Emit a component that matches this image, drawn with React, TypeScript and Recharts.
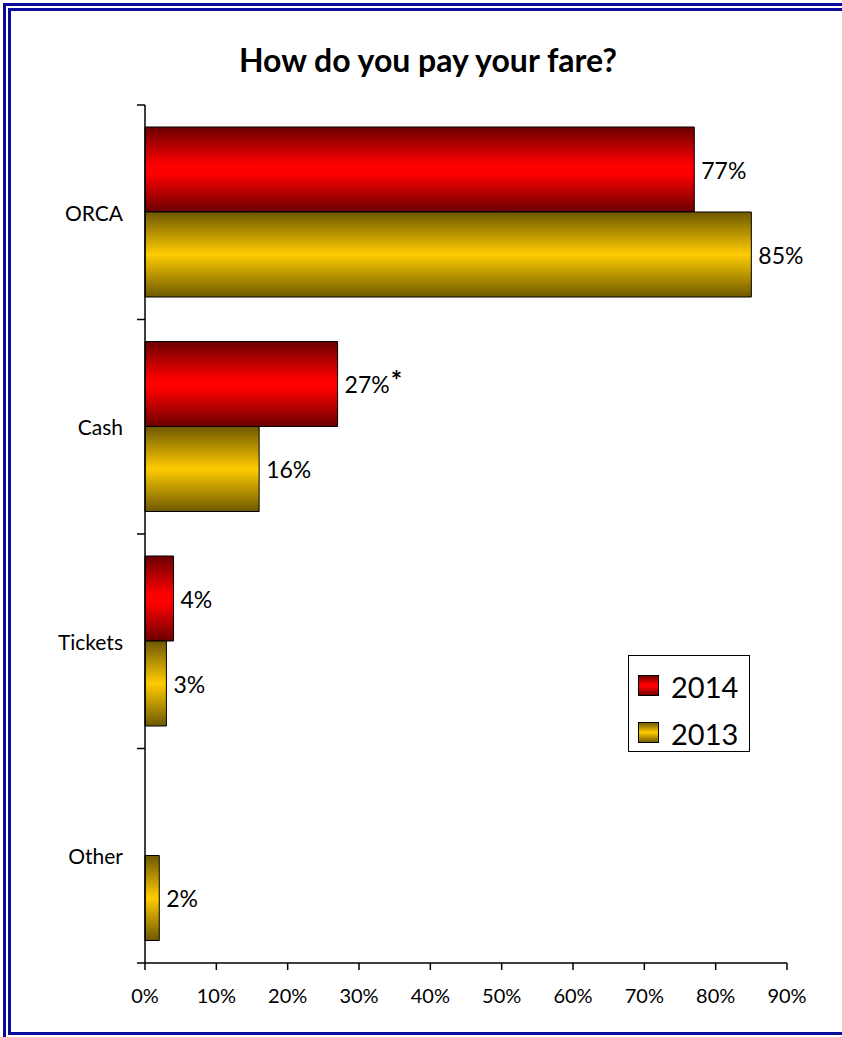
import React from "react";
import { BarChart, Bar, XAxis, YAxis, LabelList, Legend } from "recharts";

const categories = ["ORCA", "Cash", "Tickets", "Other"];
const values2014: (number | null)[] = [0.77, 0.27, 0.04, null];
const values2013: (number | null)[] = [0.85, 0.16, 0.03, 0.02];
const notes2014 = ["", "*", "", ""];
const xTicks = [0, 0.1, 0.2, 0.3, 0.4, 0.5, 0.6, 0.7, 0.8, 0.9];
const seriesNames = ["2014", "2013"];

const data = categories.map((c, i) => ({
  category: c,
  y2014: values2014[i],
  y2013: values2013[i],
  note: notes2014[i],
}));

const FONT = "Lato, 'Open Sans', sans-serif";
const pct = (v: number) => `${Math.round(v * 100)}%`;
const CAT_MARGIN = 22;
const CAT_TICK = 8;

const makeLabel = (notes: string[] | null) => (props: any) => {
  const { x, y, width, height, value, index } = props;
  if (value == null) return null;
  const note = notes ? notes[index] : "";
  return (
    <text
      x={x + width + 7}
      y={y + height / 2}
      dominantBaseline="central"
      fontFamily={FONT}
      fontSize={23}
      fill="#000"
    >
      {pct(value)}
      {note ? (
        <tspan dx={1} dy={-5} fontWeight="bold" fontSize={27}>
          {note}
        </tspan>
      ) : null}
    </text>
  );
};

const CategoryTick = (props: any) => {
  const { x, y, payload, index, visibleTicksCount } = props;
  const half = payload.offset || 0;
  const axisX = x + CAT_MARGIN;
  const isLast = index === visibleTicksCount - 1;
  return (
    <g>
      <line x1={axisX - CAT_TICK} x2={axisX} y1={y - half} y2={y - half} stroke="#000" strokeWidth={1.5} />
      {isLast ? (
        <line x1={axisX - CAT_TICK} x2={axisX} y1={y + half} y2={y + half} stroke="#000" strokeWidth={1.5} />
      ) : null}
      <text x={x} y={y} textAnchor="end" dominantBaseline="central" fontFamily={FONT} fontSize={21} fill="#000">
        {payload.value}
      </text>
    </g>
  );
};

const LegendBox = () => (
  <div
    style={{
      width: 122,
      height: 97,
      border: "1px solid #000",
      background: "#fff",
      boxSizing: "border-box",
      fontFamily: FONT,
      fontSize: 29,
      color: "#000",
      paddingTop: 10,
      paddingLeft: 9,
    }}
  >
    {seriesNames.map((n, i) => (
      <div key={n} style={{ display: "flex", alignItems: "center", height: 40, marginBottom: i === 0 ? 7 : 0 }}>
        <svg width={22} height={22} style={{ marginRight: 11 }}>
          <rect x={0.5} y={0.5} width={20} height={20} fill={i === 0 ? "url(#gRed)" : "url(#gGold)"} stroke="#000" strokeWidth={1} />
        </svg>
        <span>{n}</span>
      </div>
    ))}
  </div>
);

export default function App() {
  return (
    <div
      style={{
        position: "absolute",
        left: 0,
        top: 0,
        width: 842,
        height: 1037,
        overflow: "hidden",
        background: "#fff",
      }}
    >
      <div
        style={{
          position: "absolute",
          left: 3,
          top: 3,
          width: 900,
          height: 1037,
          border: "8px double #0b0b9c",
          boxSizing: "border-box",
        }}
      />
      <div
        style={{
          position: "absolute",
          left: 0,
          top: 40,
          width: 856,
          textAlign: "center",
          fontFamily: FONT,
          fontWeight: "bold",
          fontSize: 32,
          color: "#000",
        }}
      >
        How do you pay your fare?
      </div>
      <div style={{ position: "absolute", left: 0, top: 0 }}>
        <BarChart
          width={842}
          height={1037}
          data={data}
          layout="vertical"
          margin={{ top: 105, right: 55, bottom: 14, left: 20 }}
          barGap={0}
          barCategoryGap="10.3%"
        >
          <defs>
            <linearGradient id="gRed" x1="0" y1="0" x2="0" y2="1">
              <stop offset="0%" stopColor="#6a0000" />
              <stop offset="45%" stopColor="#ff0000" />
              <stop offset="55%" stopColor="#ff0000" />
              <stop offset="100%" stopColor="#6a0000" />
            </linearGradient>
            <linearGradient id="gGold" x1="0" y1="0" x2="0" y2="1">
              <stop offset="0%" stopColor="#6e5800" />
              <stop offset="50%" stopColor="#ffcc00" />
              <stop offset="100%" stopColor="#6e5800" />
            </linearGradient>
          </defs>
          <XAxis
            type="number"
            domain={[0, 0.9]}
            ticks={xTicks}
            tickFormatter={pct}
            interval={0}
            height={60}
            axisLine={{ stroke: "#000", strokeWidth: 1.5 }}
            tickLine={{ stroke: "#000", strokeWidth: 1.5 }}
            tickSize={7}
            tickMargin={19}
            tick={{ fontFamily: FONT, fontSize: 20, fill: "#000" }}
          />
          <YAxis
            type="category"
            dataKey="category"
            width={125}
            interval={0}
            axisLine={{ stroke: "#000", strokeWidth: 1.5 }}
            tickLine={false}
            tickSize={0}
            tickMargin={CAT_MARGIN}
            tick={<CategoryTick />}
          />
          <Legend
            content={<LegendBox />}
            layout="horizontal"
            verticalAlign="middle"
            align="center"
            wrapperStyle={{ position: "absolute", left: 628, top: 655, width: 122, height: 97 }}
          />
          <Bar
            dataKey="y2014"
            name="2014"
            barSize={85}
            fill="url(#gRed)"
            stroke="#000"
            strokeWidth={1}
            isAnimationActive={false}
          >
            <LabelList dataKey="y2014" content={makeLabel(notes2014)} />
          </Bar>
          <Bar
            dataKey="y2013"
            name="2013"
            barSize={85}
            fill="url(#gGold)"
            stroke="#000"
            strokeWidth={1}
            isAnimationActive={false}
          >
            <LabelList dataKey="y2013" content={makeLabel(null)} />
          </Bar>
        </BarChart>
      </div>
    </div>
  );
}
